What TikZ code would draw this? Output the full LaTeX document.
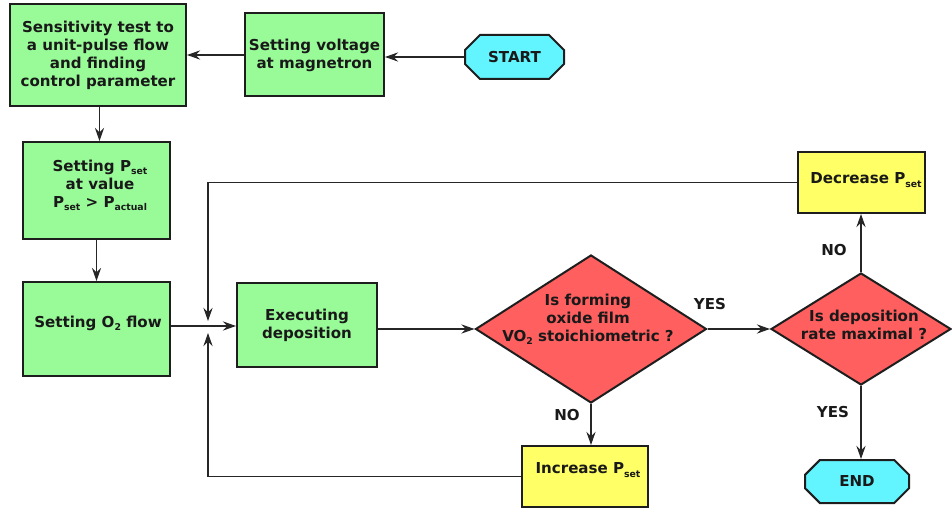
\documentclass[tikz,border=0pt]{standalone}
\usepackage{fontspec}
\setmainfont{DejaVu Sans}
\usetikzlibrary{shapes.geometric,shapes.misc,arrows.meta}
\definecolor{boxgreen}{RGB}{152,251,152}
\definecolor{boxred}{RGB}{255,95,95}
\definecolor{boxyellow}{RGB}{255,255,102}
\definecolor{boxcyan}{RGB}{98,245,255}
\definecolor{edgecol}{RGB}{30,30,30}
\newcommand\subs[1]{\raisebox{-0.4ex}{\fontsize{7}{7}\selectfont #1}}
\begin{document}
\begin{tikzpicture}[x=0.75pt,y=-0.75pt,
  txt/.style={font=\bfseries\fontsize{11.3}{13.5}\selectfont, align=center, text=black!90},
  base/.style={draw=edgecol, line width=1.5pt, inner sep=0pt},
  gbox/.style={base, rectangle, fill=boxgreen, txt},
  ybox/.style={base, rectangle, fill=boxyellow, txt},
  term/.style={base, chamfered rectangle, chamfered rectangle xsep=7pt, chamfered rectangle ysep=7pt, fill=boxcyan, txt},
  dia/.style={base, diamond, fill=boxred},
  conn/.style={draw=black!85, line width=0.8pt, -{Stealth[length=10pt,width=7pt,inset=3.5pt]}},
  lab/.style={txt}
]
\useasboundingbox (0,0) rectangle (952,509);

\node[gbox, minimum width=132pt, minimum height=76.5pt] (sens) at (98,55)
  {Sensitivity test to\\a unit-pulse flow\\and finding\\control parameter};
\node[gbox, minimum width=104.25pt, minimum height=62.25pt] (volt) at (314.5,55)
  {Setting voltage\\at magnetron};
\node[term, minimum width=74.25pt, minimum height=33pt] (start) at (514.5,57) {START};
\node[gbox, minimum width=110.25pt, minimum height=72.75pt] (pset) at (96.5,190.5) {};
\node[txt] (psettext) at (100,185) {Setting P\subs{set}\\at value\\P\subs{set} > P\subs{actual}};
\node[gbox, minimum width=110.25pt, minimum height=70.5pt] (o2) at (96.5,329) {};
\node[txt] (o2text) at (98,323) {Setting O\subs{2} flow};
\node[gbox, minimum width=105pt, minimum height=62.25pt] (exec) at (307,325) {Executing\\deposition};
\node[dia, minimum width=173.25pt, minimum height=111pt] (d1) at (591,329) {};
\node[txt] (d1text) at (588,319) {Is forming\\oxide film\\VO\subs{2} stoichiometric ?};
\node[dia, minimum width=135pt, minimum height=84pt] (d2) at (861,329) {};
\node[txt] (d2text) at (864,325) {Is deposition\\rate maximal ?};
\node[ybox, minimum width=95.25pt, minimum height=45.75pt] (dec) at (861.5,182.5) {};
\node[txt] (dectext) at (866,180) {Decrease P\subs{set}};
\node[ybox, minimum width=94.5pt, minimum height=45.75pt] (inc) at (585,476.5) {};
\node[txt] (inctext) at (588,470) {Increase P\subs{set}};
\node[term, minimum width=78pt, minimum height=32.25pt] (end) at (857,481.5) {END};

\coordinate (jt) at (208,321);
\coordinate (jb) at (208,333);

\draw[conn] (start.west) -- (volt.east |- start.west);
\draw[conn] (volt.west) -- (sens.east |- volt.west);
\draw[conn] (sens.south -| pset.north) ++(3,0) coordinate (a1) -- (a1 |- pset.north);
\draw[conn] (pset.south) -- (o2.north);
\draw[conn] (o2.east |- jt) ++(0,5) coordinate (a2) -- (a2 -| exec.west);
\draw[conn] (exec.east |- d1.west) -- (d1.west);
\draw[conn] (d1.east) -- (d1.east -| d2.west);
\draw[conn] (d2.north) -- (d2.north |- dec.south);
\draw[conn] (d2.south) -- (d2.south |- end.north);
\draw[conn] (d1.south) -- (d1.south |- inc.north);
\draw[conn] (dec.west) -| (jt);
\draw[conn] (inc.west) -| (jb);

\node[lab] (yes1) at (710,304) {YES};
\node[lab] (no1) at (834,250) {NO};
\node[lab] (no2) at (567,415) {NO};
\node[lab] (yes2) at (833,412) {YES};
\end{tikzpicture}
\end{document}
